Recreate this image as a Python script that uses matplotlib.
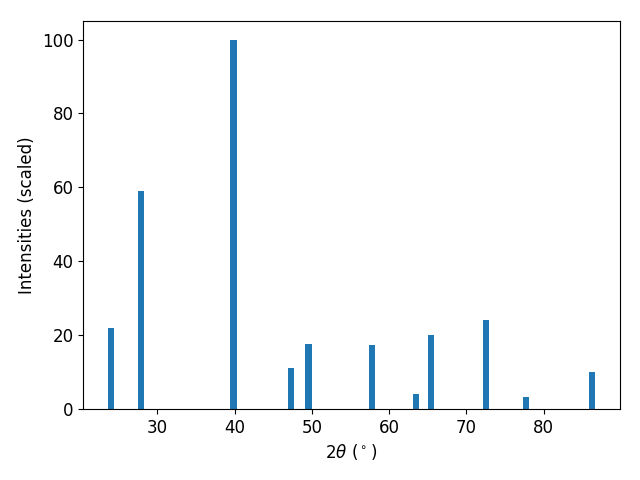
import matplotlib
matplotlib.use("Agg")
import matplotlib.pyplot as plt

two_theta = [23.95, 27.85, 39.85, 47.3, 49.55, 57.75, 63.5, 65.4, 72.5, 77.7, 86.25]
intensities = [22.0, 59.0, 100.0, 11.0, 17.5, 17.2, 4.0, 20.0, 24.0, 3.2, 10.0]

plt.rcParams["font.size"] = 12
fig, ax = plt.subplots(figsize=(6.4, 4.8), dpi=100)
ax.bar(two_theta, intensities, width=0.8, color="#1f77b4")
ax.set_xlabel(r"$2\theta$ ($^\circ$)")
ax.set_ylabel("Intensities (scaled)")
fig.subplots_adjust(left=0.130, right=0.968, top=0.956, bottom=0.148)
fig.savefig("out.png")
